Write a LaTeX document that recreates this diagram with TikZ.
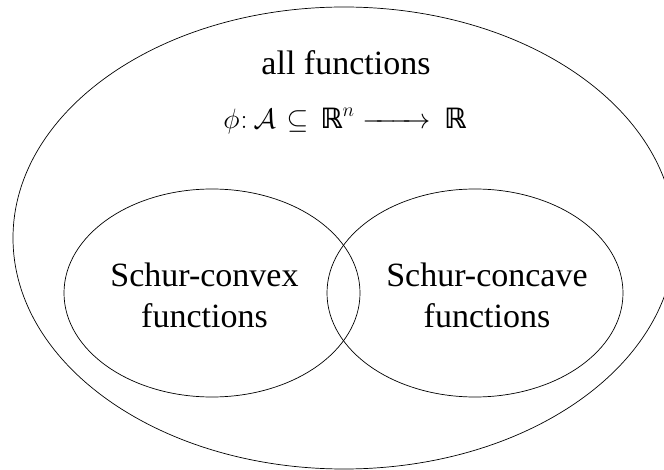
\RequirePackage{fix-cm}
\documentclass[tikz,border=0pt]{standalone}
\usepackage{fontspec}
\setmainfont{Liberation Serif}
\newfontfamily\dvs{DejaVu Sans}
\newcommand{\myR}{\mbox{\dvs\bfseries ℝ}}
\newcommand{\longarr}{\mathrel{\hbox to 68pt{\rightarrowfill}}}
\begin{document}
\begin{tikzpicture}[x=1pt,y=-1pt,line width=0.7pt,
  lbl/.style={anchor=base,font=\fontsize{34}{40}\selectfont,inner sep=0pt},
  frm/.style={anchor=base,font=\fontsize{28}{34}\selectfont,inner sep=0pt}]
\useasboundingbox (0,0) rectangle (664,470);
\clip (0,0) rectangle (664,470);
% sets
\draw (344,238) ellipse [x radius=331pt, y radius=231pt];
\draw (212,293) ellipse [x radius=148pt, y radius=104pt];
\draw (475,293) ellipse [x radius=148pt, y radius=104pt];
% texts
\node[lbl] (all) at (346,75) {all functions};
\node[frm] (map) at (345,129) {$\phi\kern1pt{:}\kern6pt\mathcal{A}\kern3pt\subseteq\kern4pt\myR^{n}\kern0pt\longarr\kern6pt\myR$};
\node[lbl] (vex1) at (204.5,287) {Schur-convex};
\node[lbl] (vex2) at (204.5,327) {functions};
\node[lbl] (cav1) at (487,287) {Schur-concave};
\node[lbl] (cav2) at (487,327) {functions};
\end{tikzpicture}
\end{document}
